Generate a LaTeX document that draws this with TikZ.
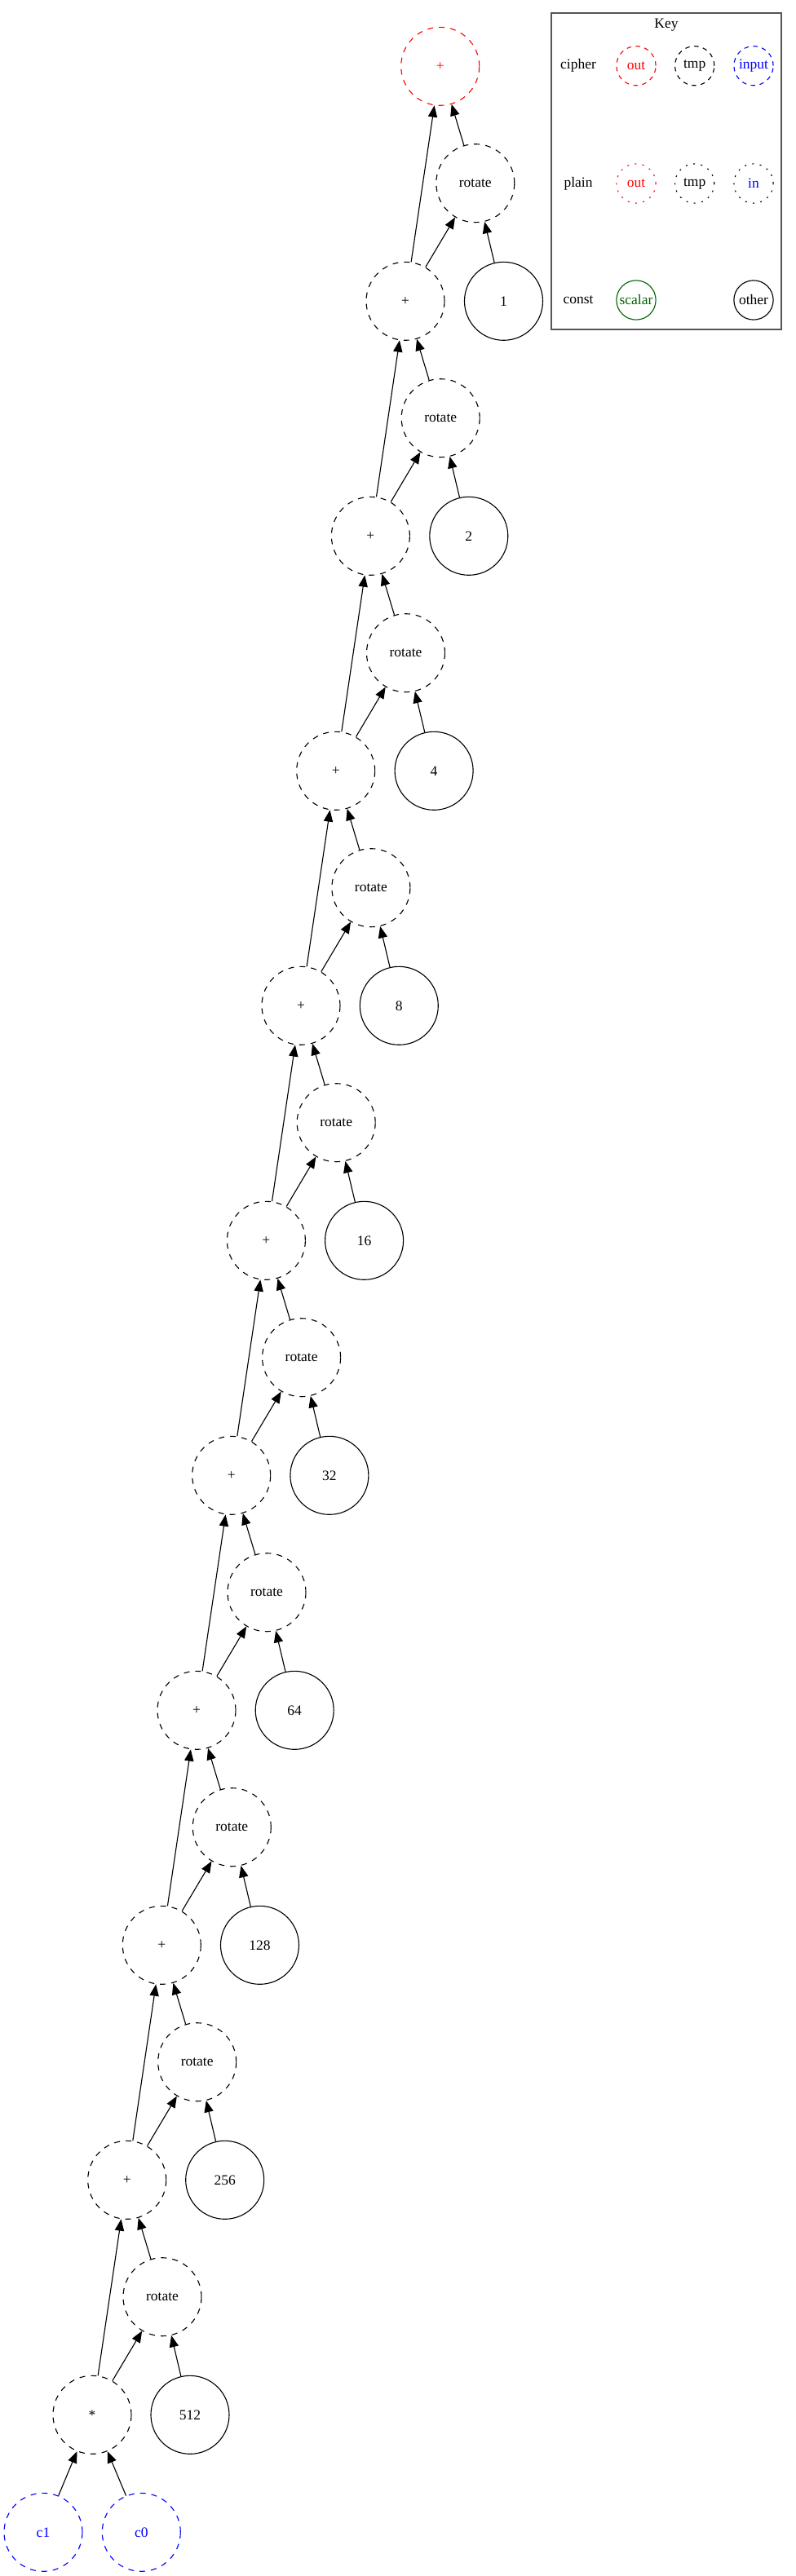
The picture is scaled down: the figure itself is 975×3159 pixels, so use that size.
\documentclass[tikz,border=0pt]{standalone}
\usepackage{fontspec}
\setmainfont{Liberation Serif}
\usetikzlibrary{arrows.meta}
\definecolor{scalargreen}{RGB}{0,100,0}
\definecolor{keygray}{RGB}{85,85,85}
\begin{document}
\begin{tikzpicture}[
    x=0.8pt, y=-0.8pt, % one unit is one pixel of the reference
    font=\fontsize{14pt}{16pt}\selectfont,
    >={Triangle[length=11.4pt,width=9pt]},
    every path/.style={line width=0.9pt},
    op/.style={circle,draw,inner sep=0pt,minimum size=76.8pt},
    cipherout/.style={op,draw=red,text=red,dash pattern=on 5.6pt off 5.6pt},
    ciphertmp/.style={op,dash pattern=on 5.6pt off 5.6pt},
    cipherin/.style={op,draw=blue,text=blue,dash pattern=on 5.6pt off 5.6pt},
    constant/.style={op,solid},
    keyitem/.style={circle,draw,inner sep=0pt,minimum size=38.6pt},
    keycipher/.style={keyitem,dash pattern=on 4.4pt off 4.4pt},
    keyplain/.style={keyitem,dash pattern=on 1.6pt off 5.9pt},
    keyconst/.style={keyitem,solid}
]
    \useasboundingbox (0,0) rectangle (975,3159);

    % Key
    \node[draw=keygray, line width=1.4pt, minimum width=225.8pt, minimum height=310.6pt] (key) at (816.9,209.9) {};
    \node (keytitle) at (817,31) {Key};
    \node (cipher) at (709,80.7) {cipher};
    \node (plain) at (709,225) {plain};
    \node (const) at (709,368) {const};
    \node[keycipher, draw=red, text=red] (cout) at (780,80.7) {out};
    \node[keycipher] (ctmp) at (851.7,80.7) {tmp};
    \node[keycipher, draw=blue, text=blue] (cin) at (924,80.7) {input};
    \node[keyplain, draw=red, text=red] (pout) at (780,225) {out};
    \node[keyplain] (ptmp) at (851.7,225) {tmp};
    \node[keyplain, text=blue] (pin) at (924,225) {in};
    \node[keyconst, draw=scalargreen, text=scalargreen] (scalar) at (780,368) {scalar};
    \node[keyconst] (other) at (924,368) {other};

    % Sum chain
    \node[cipherout] (add0) at (539.7,81.3) {+};
    \node[ciphertmp] (add1) at (497.0,369.3) {+};
    \node[ciphertmp] (add2) at (454.4,657.3) {+};
    \node[ciphertmp] (add3) at (411.7,945.3) {+};
    \node[ciphertmp] (add4) at (369.0,1233.3) {+};
    \node[ciphertmp] (add5) at (326.4,1521.3) {+};
    \node[ciphertmp] (add6) at (283.7,1809.3) {+};
    \node[ciphertmp] (add7) at (241.0,2097.3) {+};
    \node[ciphertmp] (add8) at (198.3,2385.3) {+};
    \node[ciphertmp] (add9) at (155.7,2673.3) {+};
    \node[ciphertmp] (mul) at (113.0,2961.3) {*};

    % Rotations
    \node[ciphertmp] (rot1) at (582.8,224.7) {rotate};
    \node[ciphertmp] (rot2) at (540.2,512.7) {rotate};
    \node[ciphertmp] (rot3) at (497.5,800.7) {rotate};
    \node[ciphertmp] (rot4) at (454.9,1088.7) {rotate};
    \node[ciphertmp] (rot5) at (412.2,1376.7) {rotate};
    \node[ciphertmp] (rot6) at (369.6,1664.7) {rotate};
    \node[ciphertmp] (rot7) at (327.0,1952.7) {rotate};
    \node[ciphertmp] (rot8) at (284.3,2240.7) {rotate};
    \node[ciphertmp] (rot9) at (241.7,2528.7) {rotate};
    \node[ciphertmp] (rot10) at (199.0,2816.7) {rotate};

    % Rotation amounts
    \node[constant] (amt1) at (617.5,369.3) {1};
    \node[constant] (amt2) at (574.8,657.3) {2};
    \node[constant] (amt3) at (532.1,945.3) {4};
    \node[constant] (amt4) at (489.3,1233.3) {8};
    \node[constant] (amt5) at (446.6,1521.3) {16};
    \node[constant] (amt6) at (403.9,1809.3) {32};
    \node[constant] (amt7) at (361.2,2097.3) {64};
    \node[constant] (amt8) at (318.5,2385.3) {128};
    \node[constant] (amt9) at (275.7,2673.3) {256};
    \node[constant] (amt10) at (233.0,2961.3) {512};

    % Inputs
    \node[cipherin] (c1) at (53,3105.3) {c1};
    \node[cipherin] (c0) at (173.3,3105.3) {c0};

    % Edges
    \draw[->] (c1) to (mul);
    \draw[->] (c0) to (mul);
    \draw[->] (mul) to (rot10);
    \draw[->] (amt10) to (rot10);
    \draw[->] (mul) to (add9);
    \draw[->] (rot10) to (add9);
    \draw[->] (add9) to (rot9);
    \draw[->] (amt9) to (rot9);
    \draw[->] (add9) to (add8);
    \draw[->] (rot9) to (add8);
    \draw[->] (add8) to (rot8);
    \draw[->] (amt8) to (rot8);
    \draw[->] (add8) to (add7);
    \draw[->] (rot8) to (add7);
    \draw[->] (add7) to (rot7);
    \draw[->] (amt7) to (rot7);
    \draw[->] (add7) to (add6);
    \draw[->] (rot7) to (add6);
    \draw[->] (add6) to (rot6);
    \draw[->] (amt6) to (rot6);
    \draw[->] (add6) to (add5);
    \draw[->] (rot6) to (add5);
    \draw[->] (add5) to (rot5);
    \draw[->] (amt5) to (rot5);
    \draw[->] (add5) to (add4);
    \draw[->] (rot5) to (add4);
    \draw[->] (add4) to (rot4);
    \draw[->] (amt4) to (rot4);
    \draw[->] (add4) to (add3);
    \draw[->] (rot4) to (add3);
    \draw[->] (add3) to (rot3);
    \draw[->] (amt3) to (rot3);
    \draw[->] (add3) to (add2);
    \draw[->] (rot3) to (add2);
    \draw[->] (add2) to (rot2);
    \draw[->] (amt2) to (rot2);
    \draw[->] (add2) to (add1);
    \draw[->] (rot2) to (add1);
    \draw[->] (add1) to (rot1);
    \draw[->] (amt1) to (rot1);
    \draw[->] (add1) to (add0);
    \draw[->] (rot1) to (add0);
\end{tikzpicture}
\end{document}
